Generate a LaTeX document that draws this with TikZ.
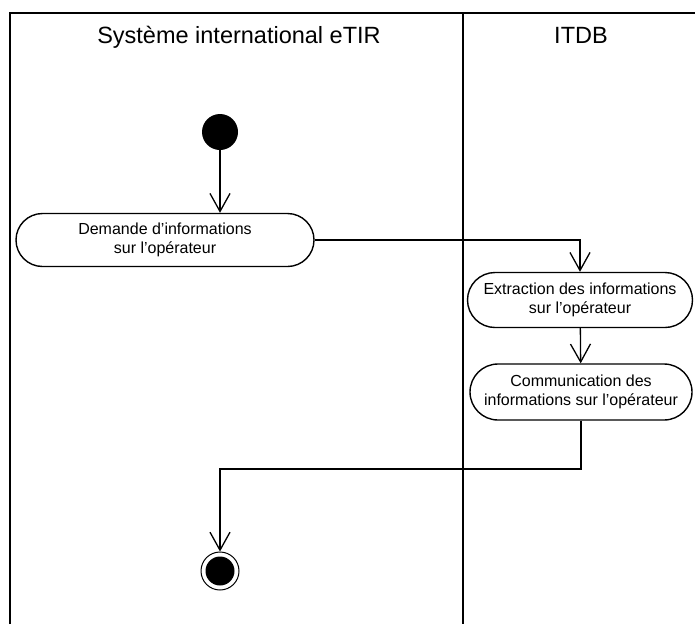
\documentclass[tikz,border=0pt]{standalone}
\usepackage{fontspec}
\setmainfont{Liberation Sans}
\usetikzlibrary{arrows.meta,shapes.misc}
\begin{document}
\begin{tikzpicture}[x=1pt,y=-1pt,
  frame/.style={line width=1.8pt},
  act/.style={draw,line width=1.4pt,rounded rectangle,rounded rectangle arc length=180,align=center,font=\fontsize{16}{19}\selectfont,inner sep=0pt},
  flow/.style={line width=1.3pt,-{Straight Barb[length=18pt,width=20pt,line width=1.3pt]}},
  lane/.style={font=\fontsize{23.5}{28}\selectfont,anchor=base}]
\useasboundingbox (0,0) rectangle (695,624);
% frame
\draw[frame] (10,624) -- (10,13) -- (695,13);
\draw[frame] (463,13) -- (463,624);
\node[lane] (h1) at (239,43) {Système international eTIR};
\node[lane] (h2) at (581,43) {ITDB};
% start
\node[circle,fill=black,minimum size=36pt,inner sep=0pt] (start) at (220,132) {};
% activities
\node[act,minimum width=298pt,minimum height=53pt] (a1) at (165,240) {Demande d’informations\\sur l’opérateur};
\node[act,minimum width=225pt,minimum height=55pt] (a2) at (580,300) {Extraction des informations\\sur l’opérateur};
\node[act,minimum width=222pt,minimum height=56pt] (a3) at (581,392) {Communication des\\informations sur l’opérateur};
% end
\node[circle,draw,line width=1pt,minimum size=38pt,inner sep=0pt] (end) at (220,571) {};
\node[circle,fill=black,minimum size=29pt,inner sep=0pt] (endin) at (220,571) {};
% flows
\draw[flow] (start.south) -- (start.south |- a1.north);
\draw[flow] (a1.east) -| (a2.north);
\draw[flow] (a2) -- (a3);
\coordinate (c1) at (582,469);
\draw[flow] (a3.south) -- (a3.south |- c1) -| (end.north);
\end{tikzpicture}
\end{document}
